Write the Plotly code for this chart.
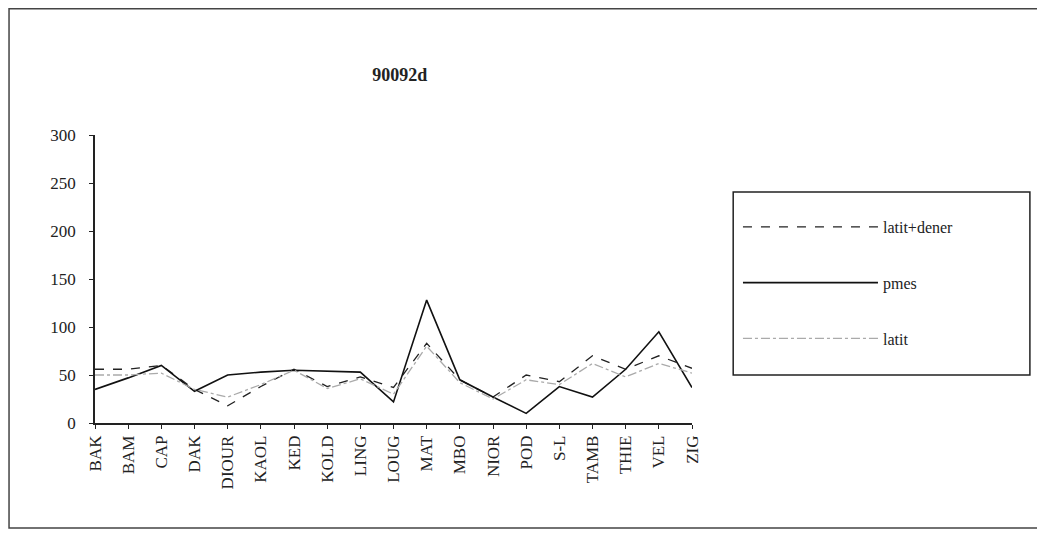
import plotly.graph_objects as go

# %%
regions = ['BAK', 'BAM', 'CAP', 'DAK', 'DIOUR', 'KAOL', 'KED', 'KOLD', 'LING', 'LOUG',
           'MAT', 'MBO', 'NIOR', 'POD', 'S-L', 'TAMB', 'THIE', 'VEL', 'ZIG']
latit_dener = [56, 56, 60, 35, 18, 38, 56, 38, 48, 37, 83, 45, 27, 50, 43, 70, 56, 70, 57]
pmes = [35, 47, 60, 33, 50, 53, 55, 54, 53, 22, 128, 45, 27, 10, 38, 27, 56, 95, 37]
latit = [50, 50, 52, 35, 27, 40, 55, 36, 46, 30, 80, 42, 25, 45, 40, 62, 48, 62, 52]
y_ticks = [0, 50, 100, 150, 200, 250, 300]

# %%
serif = 'Liberation Serif'
fig = go.Figure()
fig.add_trace(go.Scatter(x=regions, y=latit_dener, name='latit+dener', mode='lines',
                         legendgroup='a', line=dict(color='#222', width=1.3, dash='dash')))
fig.add_trace(go.Scatter(x=regions, y=pmes, name='pmes', mode='lines',
                         legendgroup='b', line=dict(color='#111', width=1.6)))
fig.add_trace(go.Scatter(x=regions, y=latit, name='latit', mode='lines',
                         legendgroup='c', line=dict(color='#aaa', width=1.3, dash='dashdot')))

fig.update_layout(
    width=1045, height=537,
    paper_bgcolor='white', plot_bgcolor='white',
    margin=dict(l=87, r=361, t=127, b=122),
    title=dict(text='<b>90092d</b>', x=0.375, xanchor='center', y=0.875, yanchor='middle',
               font=dict(family=serif, size=18, color='#222')),
    font=dict(family=serif, size=14, color='#222'),
    showlegend=True,
    legend=dict(x=1.077, y=0.74, xanchor='left', yanchor='top',
                borderwidth=0, bgcolor='rgba(0,0,0,0)',
                itemwidth=135, tracegroupgap=32, traceorder='grouped',
                font=dict(family=serif, size=16, color='#222')),
    shapes=[
        # outer frame
        dict(type='rect', xref='paper', yref='paper',
             x0=-0.144, x1=1.583, y0=-0.365, y1=1.438,
             line=dict(color='#444', width=1.5)),
        # legend box
        dict(type='rect', xref='paper', yref='paper',
             x0=1.069, x1=1.566, y0=0.167, y1=0.802,
             line=dict(color='#222', width=1.5)),
    ],
)
fig.update_xaxes(type='category', range=[0, len(regions) - 1], showgrid=False,
                 showline=True, linecolor='#222', linewidth=1.5,
                 ticks='outside', ticklen=4, tickcolor='#222', tickangle=-90,
                 tickfont=dict(family=serif, size=17))
fig.update_yaxes(range=[0, 300], tickvals=y_ticks, showgrid=False, zeroline=False,
                 showline=True, linecolor='#222', linewidth=1.5,
                 ticks='outside', ticklen=4, tickcolor='#222', ticklabelstandoff=10,
                 tickfont=dict(family=serif, size=17))

fig.write_html('out.html')
